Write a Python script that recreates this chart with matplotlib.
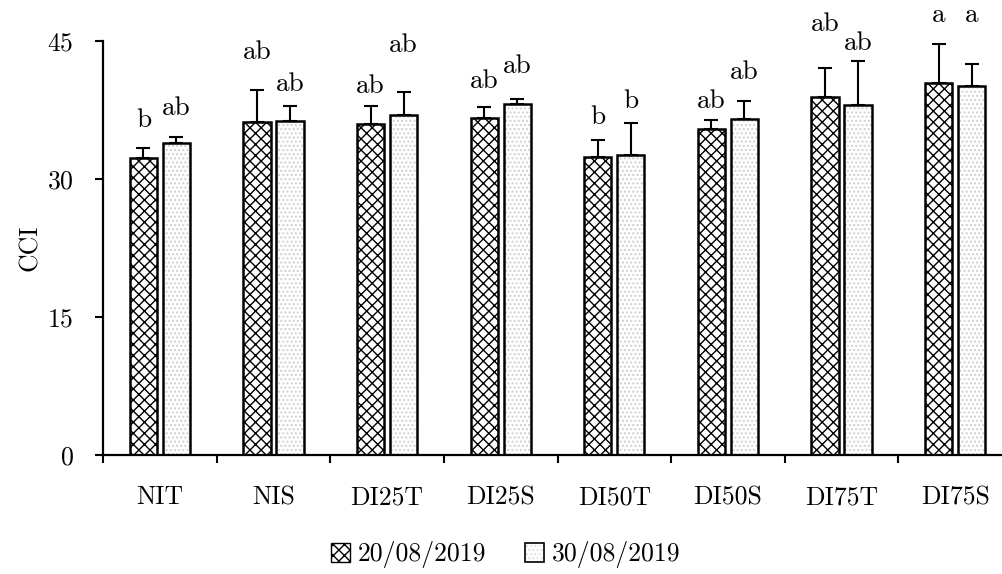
import numpy as np
import matplotlib
matplotlib.use('Agg')
import matplotlib.pyplot as plt
from matplotlib.patches import Patch

plt.rcParams['font.family'] = 'serif'
plt.rcParams['font.serif'] = ['cmr10']
plt.rcParams['mathtext.fontset'] = 'cm'
plt.rcParams['axes.formatter.use_mathtext'] = True
plt.rcParams['hatch.linewidth'] = 1.0

# treatments and the two sampling dates
treatments = ['NIT', 'NIS', 'DI25T', 'DI25S', 'DI50T', 'DI50S', 'DI75T', 'DI75S']
dates = ['20/08/2019', '30/08/2019']

# mean CCI and standard deviation (upper bar only)
cci_d1 = [32.3, 36.2, 36.0, 36.6, 32.4, 35.4, 38.9, 40.4]
sd_d1 = [1.1, 3.5, 1.9, 1.2, 1.8, 1.0, 3.2, 4.3]
cci_d2 = [33.9, 36.3, 37.0, 38.2, 32.6, 36.5, 38.0, 40.1]
sd_d2 = [0.7, 1.6, 2.5, 0.5, 3.5, 2.0, 4.8, 2.4]

# significance letters and their baseline heights
letters_d1 = ['b', 'ab', 'ab', 'ab', 'b', 'ab', 'ab', 'a']
letters_d2 = ['ab', 'ab', 'ab', 'ab', 'b', 'ab', 'ab', 'a']
letter_y_d1 = [35.6, 43.0, 39.3, 39.9, 36.0, 37.7, 46.1, 47.1]
letter_y_d2 = [37.0, 39.6, 43.8, 41.5, 37.7, 40.9, 44.0, 47.1]

fig = plt.figure(figsize=(10.02, 5.74), dpi=100)
ax = fig.add_axes([103 / 1002, 119 / 574, 909 / 1002, 414 / 574])

x = np.arange(len(treatments))
w = 0.24
off = 0.145
lw = 1.8
ekw = dict(ecolor='black', elinewidth=1.5, capsize=5, capthick=1.5)

# first date: cross hatched
ax.bar(x - off, cci_d1, w, facecolor='white', edgecolor='black', hatch='xxx',
       linewidth=lw, zorder=2)
ax.errorbar(x - off, cci_d1, yerr=[np.zeros(len(x)), sd_d1], fmt='none', zorder=1, **ekw)

# second date: light dotted fill, then black outline on top
ax.bar(x + off, cci_d2, w, facecolor='white', edgecolor='#d0d0d0', hatch='....',
       linewidth=0, zorder=2)
ax.bar(x + off, cci_d2, w, fill=False, edgecolor='black', linewidth=lw, zorder=3)
ax.errorbar(x + off, cci_d2, yerr=[np.zeros(len(x)), sd_d2], fmt='none', zorder=1, **ekw)

for i in range(len(x)):
    ax.text(x[i] - off, letter_y_d1[i], letters_d1[i], ha='center', va='baseline',
            fontsize=19.5, clip_on=False)
    ax.text(x[i] + off, letter_y_d2[i], letters_d2[i], ha='center', va='baseline',
            fontsize=19.5, clip_on=False)

ax.set_xlim(-0.5, len(x) - 0.5)
ax.set_ylim(0, 45)
ax.set_yticks([0, 15, 30, 45])
ax.set_ylabel('CCI', fontsize=18.5, labelpad=4)

# major ticks on category boundaries, labels on minor ticks at centres
ax.set_xticks(np.arange(len(x) + 1) - 0.5)
ax.set_xticklabels([])
ax.set_xticks(x, minor=True)
ax.set_xticklabels(treatments, minor=True)
ax.tick_params(axis='x', which='major', direction='out', length=6, width=1.5)
ax.tick_params(axis='x', which='minor', length=0, pad=22, labelsize=18.5)
ax.tick_params(axis='y', direction='out', length=6, width=1.5, pad=15, labelsize=18.5)

for s in ['top', 'right']:
    ax.spines[s].set_visible(False)
for s in ['left', 'bottom']:
    ax.spines[s].set_linewidth(1.6)

h1 = Patch(facecolor='white', edgecolor='black', hatch='xxx', linewidth=1.0)
h2a = Patch(facecolor='white', edgecolor='#e0e0e0', hatch='....', linewidth=0)
h2b = Patch(fill=False, edgecolor='black', linewidth=1.2)
fig.legend([h1, (h2a, h2b)], dates, loc='center', bbox_to_anchor=(0.505, 19 / 574),
           ncol=2, frameon=False, fontsize=18.5, handlelength=0.75, handleheight=0.75,
           handletextpad=0.3, columnspacing=1.5)

fig.savefig('out.png', dpi=100)
